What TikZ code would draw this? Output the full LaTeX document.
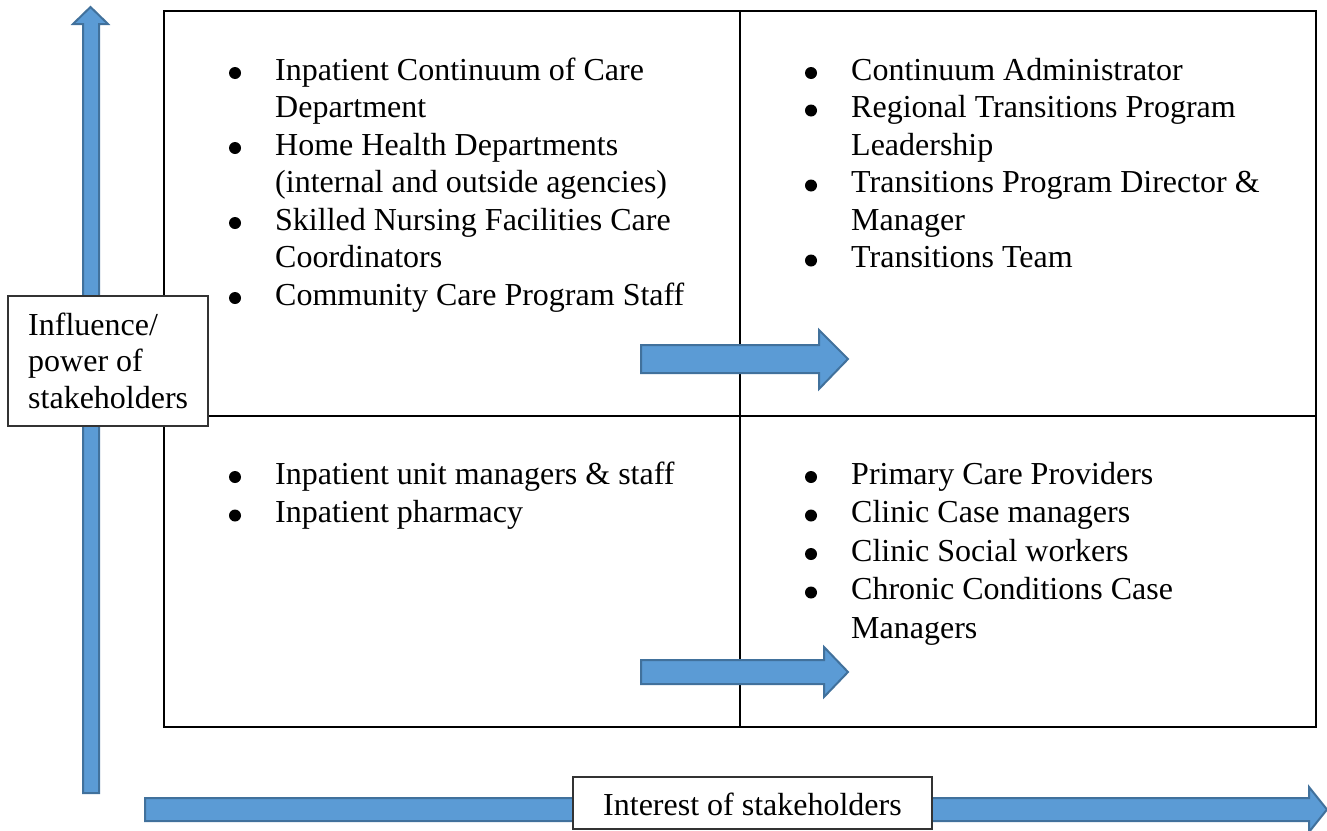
\documentclass[tikz,border=0pt]{standalone}
\usepackage{fontspec}
\setmainfont{Liberation Serif}
\definecolor{arrowfill}{HTML}{5B9BD5}
\definecolor{arrowline}{HTML}{41719C}
\definecolor{boxline}{HTML}{333333}
\begin{document}
\begin{tikzpicture}[x=1pt,y=-1pt,
  txt/.style={anchor=base west,inner sep=0pt,font=\fontsize{32}{37.5}\selectfont},
  grid/.style={draw=black,line width=2pt},
  blockarrow/.style={fill=arrowfill,draw=arrowline,line width=2pt,line join=miter},
  labelbox/.style={draw=boxline,fill=white,line width=1.5pt},
  bul/.style={fill=black}]
\useasboundingbox (0,0) rectangle (1327,830);
% grid
\draw[grid] (164,11) rectangle (1316,727);
\draw[grid] (740,11) -- (740,727);
\draw[grid] (164,416) -- (1316,416);
% vertical arrow
\draw[blockarrow] (83,793) -- (83,24) -- (73,24) -- (90.5,7) -- (108,24) -- (99,24) -- (99,793) -- cycle;
% influence box
\draw[labelbox] (8,296) rectangle (208,426);
\node[txt] (inf1) at (28,335) {Influence/};
\node[txt] (inf2) at (28,371.5) {power of};
\node[txt] (inf3) at (28,408) {stakeholders};
% middle arrows
\draw[blockarrow] (641,345) -- (819,345) -- (819,330) -- (848,359) -- (819,389) -- (819,373) -- (641,373) -- cycle;
\draw[blockarrow] (641,660) -- (824,660) -- (824,647) -- (848,672) -- (824,697) -- (824,684) -- (641,684) -- cycle;
% bottom arrow
\draw[blockarrow] (145,798) -- (1309,798) -- (1309,787) -- (1327,809.5) -- (1309,832) -- (1309,821) -- (145,821) -- cycle;
\draw[labelbox] (573,777) rectangle (932,829);
\node[txt] (int) at (603,815) {Interest of stakeholders};
% top-left quadrant
\foreach \y in {80,155,230,305} \fill[bul] (235,\y-7) circle[radius=6pt];
\node[txt] (tl1) at (275,80) {Inpatient Continuum of Care};
\node[txt] (tl2) at (275,117.5) {Department};
\node[txt] (tl3) at (275,155) {Home Health Departments};
\node[txt] (tl4) at (275,192.5) {(internal and outside agencies)};
\node[txt] (tl5) at (275,230) {Skilled Nursing Facilities Care};
\node[txt] (tl6) at (275,267.5) {Coordinators};
\node[txt] (tl7) at (275,305) {Community Care Program Staff};
% top-right quadrant
\foreach \y in {80,117.5,192.5,267.5} \fill[bul] (811,\y-7) circle[radius=6pt];
\node[txt] (tr1) at (851,80) {Continuum Administrator};
\node[txt] (tr2) at (851,117.5) {Regional Transitions Program};
\node[txt] (tr3) at (851,155) {Leadership};
\node[txt] (tr4) at (851,192.5) {Transitions Program Director \&};
\node[txt] (tr5) at (851,230) {Manager};
\node[txt] (tr6) at (851,267.5) {Transitions Team};
% bottom-left quadrant
\foreach \y in {484,522.5} \fill[bul] (235,\y-7) circle[radius=6pt];
\node[txt] (bl1) at (275,484) {Inpatient unit managers \& staff};
\node[txt] (bl2) at (275,522.5) {Inpatient pharmacy};
% bottom-right quadrant
\foreach \y in {484,522.5,561,599.5} \fill[bul] (811,\y-7) circle[radius=6pt];
\node[txt] (br1) at (851,484) {Primary Care Providers};
\node[txt] (br2) at (851,522.5) {Clinic Case managers};
\node[txt] (br3) at (851,561) {Clinic Social workers};
\node[txt] (br4) at (851,599.5) {Chronic Conditions Case};
\node[txt] (br5) at (851,638) {Managers};
\end{tikzpicture}
\end{document}
